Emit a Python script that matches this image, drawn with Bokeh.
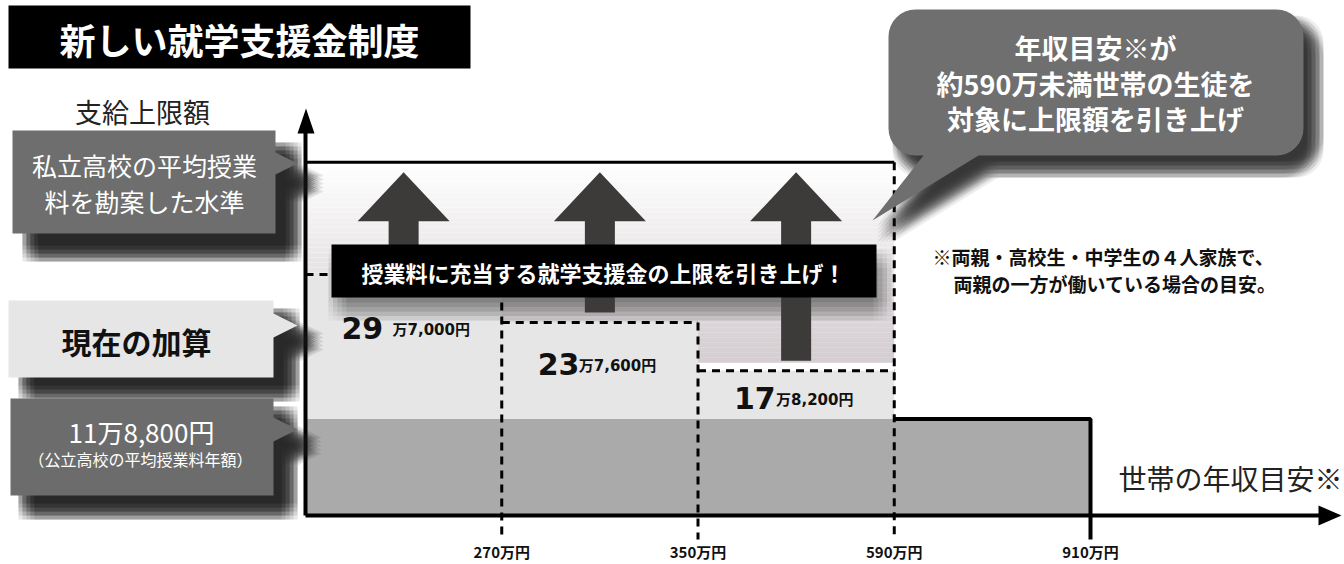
import math
from bokeh.plotting import figure
from bokeh.models import Range1d
from bokeh.core.properties import value
from bokeh.embed import file_html
from bokeh.resources import INLINE

# ---------------- data ----------------
title_text = "新しい就学支援金制度"
y_title = "支給上限額"
x_title = "世帯の年収目安※"
income_tick_labels = ["270万円", "350万円", "590万円", "910万円"]
income_tick_pos = [1, 2, 3, 4]            # ordinal position of each income threshold
bracket_start = [0, 1, 2]                 # 〜270万円, 270〜350万円, 350〜590万円
bracket_end = [1, 2, 3]
new_limit = [29.7, 23.76, 17.82]          # 万円
public_base = 11.88                       # 万円 (公立高校の平均授業料年額)
public_base_end = 4                       # up to 910万円
private_level = 43.5                      # unlabelled level
private_end = 3                           # up to 590万円
banner_text = "授業料に充当する就学支援金の上限を引き上げ！"
bubble_lines = ["年収目安※が", "約590万未満世帯の生徒を", "対象に上限額を引き上げ"]
note_lines = ["※両親・高校生・中学生の４人家族で、", "両親の一方が働いている場合の目安。"]
private_label = ["私立高校の平均授業", "料を勘案した水準"]
current_label = "現在の加算"
public_note = "（公立高校の平均授業料年額）"


def man_yen(v):
    whole = int(v)
    rest = int(round((v - whole) * 10000))
    return str(whole), "万{:,}円".format(rest)


# ---------------- layout ----------------
X0, DX = 305.0, 196.25    # px of income index 0, px per step
Y0, DY = 515.0, 8.118     # px of 0 万円, px per 万円
W, H = 1344, 564


def X(px):
    return (px - X0) / DX


def Y(py):
    return (Y0 - py) / DY


p = figure(width=W, height=H, x_range=Range1d(X(0), X(W)),
           y_range=Range1d(Y(H), Y(0)), output_backend="svg",
           toolbar_location=None, min_border=0)
p.axis.visible = False
p.grid.visible = False
p.outline_line_color = None
p.background_fill_color = "white"
p.border_fill_color = "white"

FONT = value("Noto Sans CJK JP")
NUMFONT = value("DejaVu Sans, Noto Sans CJK JP")


def txt(px, py, s, size, color="#111111", style="normal", align="center", font=FONT):
    p.text(x=[X(px)], y=[Y(py)], text=[s], text_font=font,
           text_font_size=f"{size}px", text_font_style=style,
           text_color=color, text_align=align, text_baseline="middle")


def poly(pts, color, alpha=1.0):
    p.patch([X(a) for a, b in pts], [Y(b) for a, b in pts],
            fill_color=color, fill_alpha=alpha, line_color=None)


def shadow(pts, dx, dy, spread, alpha, color="#111111"):
    offs = [(ox, oy) for ox in (-1, -0.5, 0, 0.5, 1) for oy in (-1, -0.5, 0, 0.5, 1)]
    a = 1 - (1 - alpha) ** (1.0 / len(offs))
    for ox, oy in offs:
        poly([(x + dx + ox * spread, y + dy + oy * spread) for x, y in pts], color, a)


def rect_pts(l, t, r, b):
    return [(l, t), (r, t), (r, b), (l, b)]


# ---------------- title ----------------
p.quad(left=X(8), right=X(470), top=Y(5), bottom=Y(68), fill_color="black", line_color=None)
txt(239, 38, title_text, 36, "white", "bold")

# ---------------- chart background ----------------
n_band = 40
top_py, bot_py = Y0 - private_level * DY, 362
c0, c1 = (255, 255, 255), (212, 205, 209)
for i in range(n_band):
    t = i / (n_band - 1)
    col = "#%02x%02x%02x" % tuple(int(c0[k] + (c1[k] - c0[k]) * t) for k in range(3))
    y_a = top_py + (bot_py - top_py) * i / n_band
    y_b = top_py + (bot_py - top_py) * (i + 1) / n_band
    p.quad(left=0, right=private_end, top=Y(y_a), bottom=Y(y_b) - 0.02,
           fill_color=col, line_color=None)

# current step fills
p.quad(left=bracket_start, right=bracket_end, bottom=[public_base] * 3, top=new_limit,
       fill_color="#e6e6e6", line_color=None)
# base (public school tuition)
p.quad(left=[0], right=[public_base_end], bottom=[0], top=[public_base],
       fill_color="#a9aaa9", line_color=None)

# banner shadow
banner = rect_pts(331, 244, 876, 297)
shadow(banner, 6, 14, 9, 0.55, "#333333")

# dashed bracket outlines
ext = Y(539)
for i, (s, e, lev) in enumerate(zip(bracket_start, bracket_end, new_limit)):
    p.line([s, e], [lev, lev], line_color="black", line_width=3, line_dash="8 6")
    top_v = lev if i < len(new_limit) - 1 else private_level
    p.line([e, e], [top_v, ext], line_color="black", line_width=3, line_dash="8 6")

# solid lines
p.line([0, private_end], [private_level, private_level], line_color="black", line_width=3)
p.line([private_end, public_base_end, public_base_end], [public_base, public_base, ext],
       line_color="black", line_width=4)

# up arrows
for s, e, lev in zip(bracket_start, bracket_end, new_limit):
    cx = (s + e) / 2
    yb = lev + 10 / DY
    tip = private_level - 10 / DY
    hb = tip - 49 / DY
    hw, sw = 46 / DX, 15 / DX
    p.patch([cx - sw, cx - sw, cx - hw, cx, cx + hw, cx + sw, cx + sw],
            [yb, hb, hb, tip, hb, hb, yb], fill_color="#3d3a3a", line_color=None)

# banner
poly(banner, "black")
txt(603, 271, banner_text, 22, "white", "bold")

# axes
p.line([0, 0], [0, Y(128)], line_color="black", line_width=4)
p.patch([X(297), X(305.5), X(314)], [Y(133), Y(108), Y(133)], fill_color="black", line_color=None)
p.line([0, X(1320)], [0, 0], line_color="black", line_width=4)
p.patch([X(1318), X(1341), X(1318)], [Y(505), Y(515), Y(525)], fill_color="black", line_color=None)

# tick labels
p.text(x=income_tick_pos, y=[Y(551)] * len(income_tick_pos), text=income_tick_labels,
       text_font=FONT, text_font_size="15px", text_font_style="bold",
       text_color="#111111", text_align="center", text_baseline="middle")

# value labels
label_py = [327, 363, 397]
suffix_dx = [51, 41, 42]
for s, lev, py, sdx in zip(bracket_start, new_limit, label_py, suffix_dx):
    big, small = man_yen(lev)
    bx = X0 + s * DX + 36
    txt(bx, py, big, 30, "#111111", "bold", "left", NUMFONT)
    txt(bx + sdx, py + 2, small, 15, "#111111", "bold", "left", NUMFONT)

# axis titles
txt(142, 111, y_title, 27, "#222222")
txt(1118, 477, x_title, 28, "#222222", align="left")

# ---------------- left labels ----------------
priv_pts = [(12, 130), (275, 130), (275, 152), (297, 163), (275, 174), (275, 233), (12, 233)]
cur_pts = [(8, 300), (273, 300), (273, 313), (297, 325), (273, 337), (273, 377), (8, 377)]
pub_pts = [(10, 398), (273, 398), (273, 417), (297, 429), (273, 441), (273, 495), (10, 495)]
shadow(priv_pts, 18, 20, 8, 0.93, "#1e1e1e")
shadow(cur_pts, 18, 16, 8, 0.93, "#1e1e1e")
shadow(pub_pts, 16, 16, 8, 0.93, "#1e1e1e")
poly(priv_pts, "#6e6e6e")
poly(cur_pts, "#e6e6e6")
poly(pub_pts, "#6c6c6c")
txt(144, 164, private_label[0], 25, "white")
txt(144, 200, private_label[1], 25, "white")
txt(136, 340, current_label, 30, "#111111", "bold")
pb, ps = man_yen(public_base)
txt(141, 431, pb + ps, 26, "white")
txt(140, 458, public_note, 16, "white")

# ---------------- speech bubble ----------------
bl, bt, br, bbm, rad = 888, 9, 1303, 155, 27


def arc(cx, cy, a0, a1, n=8):
    return [(cx + rad * math.cos(math.radians(a0 + (a1 - a0) * k / n)),
             cy + rad * math.sin(math.radians(a0 + (a1 - a0) * k / n))) for k in range(n + 1)]


bubble = []
bubble += arc(bl + rad, bt + rad, 180, 270)
bubble += arc(br - rad, bt + rad, 270, 360)
bubble += arc(br - rad, bbm - rad, 0, 90)
bubble += [(978, bbm), (872, 220), (923, bbm)]
bubble += arc(bl + rad, bbm - rad, 90, 180)
shadow(bubble, 12, 14, 8, 0.85, "#1e1e1e")
poly(bubble, "#6f6f6f")
for line, py in zip(bubble_lines, [47, 83, 118]):
    txt(1095, py, line, 27, "white", "bold")

# ---------------- note ----------------
txt(932, 256, note_lines[0], 19, "#111111", "bold", "left")
txt(953, 283, note_lines[1], 19, "#111111", "bold", "left")

open("out.html", "w").write(file_html(p, INLINE))
